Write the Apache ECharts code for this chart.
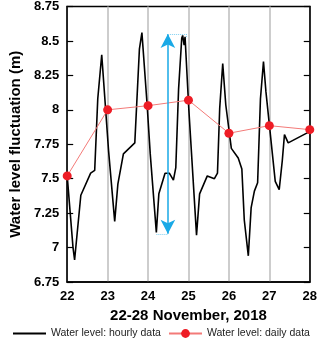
<!DOCTYPE html>
<html>
<head>
<meta charset="utf-8">
<script src="https://cdn.jsdelivr.net/npm/echarts@6/dist/echarts.min.js"></script>
<style>
  html, body { margin: 0; padding: 0; background: #fff; }
  #chart { width: 320px; height: 344px; }
</style>
</head>
<body>
<div id="chart"></div>
<script>
// hourly water level (day of November, level in m)
var hourX = [22.0, 22.144, 22.183, 22.337, 22.58, 22.68, 22.756, 22.854, 23.024, 23.175,
  23.253, 23.39, 23.672, 23.786, 23.848, 23.976, 24.054, 24.205, 24.267, 24.42,
  24.526, 24.627, 24.686, 24.755, 24.833, 24.856, 24.892, 24.915, 25.007, 25.199,
  25.275, 25.465, 25.641, 25.717, 25.772, 25.847, 25.923, 26.06, 26.23, 26.32,
  26.38, 26.48, 26.55, 26.63, 26.71, 26.78, 26.855, 26.916, 27.146, 27.244,
  27.32, 27.374, 27.466, 27.983];
var hourY = [7.52, 7.00, 6.91, 7.38, 7.54, 7.56, 8.08, 8.40, 7.70, 7.19,
  7.46, 7.68, 7.76, 8.44, 8.56, 8.04, 7.68, 7.11, 7.39, 7.54,
  7.54, 7.49, 7.58, 8.15, 8.52, 8.54, 8.47, 8.53, 8.01, 7.09,
  7.39, 7.52, 7.50, 7.54, 8.01, 8.335, 8.035, 7.72, 7.65, 7.57,
  7.20, 6.94, 7.29, 7.41, 7.47, 8.08, 8.35, 8.13, 7.48, 7.42,
  7.63, 7.82, 7.76, 7.84];

// daily water level
var dayX = [22, 23, 24, 25, 26, 27, 28];
var dayY = [7.52, 8.0, 8.03, 8.07, 7.83, 7.885, 7.856];

// range arrow (x position, low, high) and ends of the dotted guides
var arrowX = 24.49;
var arrowLow = 7.10;
var arrowHigh = 8.55;
var lowPeakX = 24.205;
var highPeakX = 24.95;

var font = '"Liberation Sans", Arial, Helvetica, sans-serif';

function pairs(xs, ys) {
  return xs.map(function (x, i) { return [x, ys[i]]; });
}

var legendText = { fontFamily: font, fontSize: 10.5, color: '#222' };

var chart = echarts.init(document.getElementById('chart'));
var option = {
  animation: false,
  textStyle: { fontFamily: font },
  grid: { left: 52, right: 6, top: 4, bottom: 62, show: true, borderColor: '#000', borderWidth: 1.5 },
  legend: [{
    left: 7,
    top: 323,
    itemWidth: 33,
    itemHeight: 11,
    textStyle: legendText,
    data: [{ name: 'Water level: hourly data', itemStyle: { opacity: 0 } }]
  }, {
    left: 163,
    top: 323,
    itemWidth: 33,
    itemHeight: 11,
    textStyle: legendText,
    data: ['Water level: daily data']
  }],
  xAxis: [{
    type: 'value',
    min: 22,
    max: 28,
    interval: 1,
    name: '22-28 November, 2018',
    nameLocation: 'middle',
    nameGap: 21,
    nameTextStyle: { fontFamily: font, fontSize: 15, fontWeight: 'bold', color: '#000' },
    axisLine: { lineStyle: { color: '#000', width: 1.5 } },
    axisTick: { show: false },
    axisLabel: { fontFamily: font, fontSize: 13, fontWeight: 'bold', color: '#000', margin: 8 },
    splitLine: { show: true, lineStyle: { color: '#bdbdbd', width: 1.5 } }
  }],
  yAxis: [{
    type: 'value',
    min: 6.75,
    max: 8.75,
    interval: 0.25,
    name: 'Water level fluctuation (m)',
    nameLocation: 'middle',
    nameGap: 31,
    nameTextStyle: { fontFamily: font, fontSize: 15, fontWeight: 'bold', color: '#000' },
    axisLine: { show: true, lineStyle: { color: '#000', width: 1.5 } },
    axisTick: { show: true, inside: true, length: 6, lineStyle: { color: '#000', width: 1.2 } },
    axisLabel: { fontFamily: font, fontSize: 13, fontWeight: 'bold', color: '#000', margin: 8 },
    splitLine: { show: false }
  }, {
    type: 'value',
    position: 'right',
    min: 6.75,
    max: 8.75,
    interval: 0.25,
    axisLine: { show: true, lineStyle: { color: '#000', width: 1.5 } },
    axisTick: { show: true, inside: true, length: 6, lineStyle: { color: '#000', width: 1.2 } },
    axisLabel: { show: false },
    splitLine: { show: false }
  }],
  series: [{
    name: 'Water level: hourly data',
    type: 'line',
    data: pairs(hourX, hourY),
    symbol: 'none',
    lineStyle: { color: '#000', width: 1.6 },
    itemStyle: { color: '#000' },
    z: 3
  }, {
    name: 'Water level: daily data',
    type: 'line',
    data: pairs(dayX, dayY),
    symbol: 'circle',
    symbolSize: 9,
    lineStyle: { color: '#f37a78', width: 1 },
    itemStyle: { color: '#ee1c25' },
    z: 4
  }, {
    name: 'range',
    type: 'line',
    data: [],
    markLine: {
      silent: true,
      label: { show: false },
      symbol: ['arrow', 'arrow'],
      symbolSize: [11, 14],
      data: [
        [{ coord: [arrowX, arrowLow], lineStyle: { color: '#19a9e6', width: 1.5, type: 'solid' } },
         { coord: [arrowX, arrowHigh] }],
        [{ coord: [arrowX, arrowHigh], symbol: 'none', lineStyle: { color: '#7fd0f2', width: 1, type: 'dotted' } },
         { coord: [highPeakX, arrowHigh], symbol: 'none' }],
        [{ coord: [highPeakX, arrowHigh], symbol: 'none', lineStyle: { color: '#7fd0f2', width: 1, type: 'dotted' } },
         { coord: [highPeakX, 8.52], symbol: 'none' }],
        [{ coord: [lowPeakX, arrowLow], symbol: 'none', lineStyle: { color: '#7fd0f2', width: 1, type: 'dotted' } },
         { coord: [arrowX, arrowLow], symbol: 'none' }]
      ]
    },
    z: 2
  }]
};
chart.setOption(option);
</script>
</body>
</html>
